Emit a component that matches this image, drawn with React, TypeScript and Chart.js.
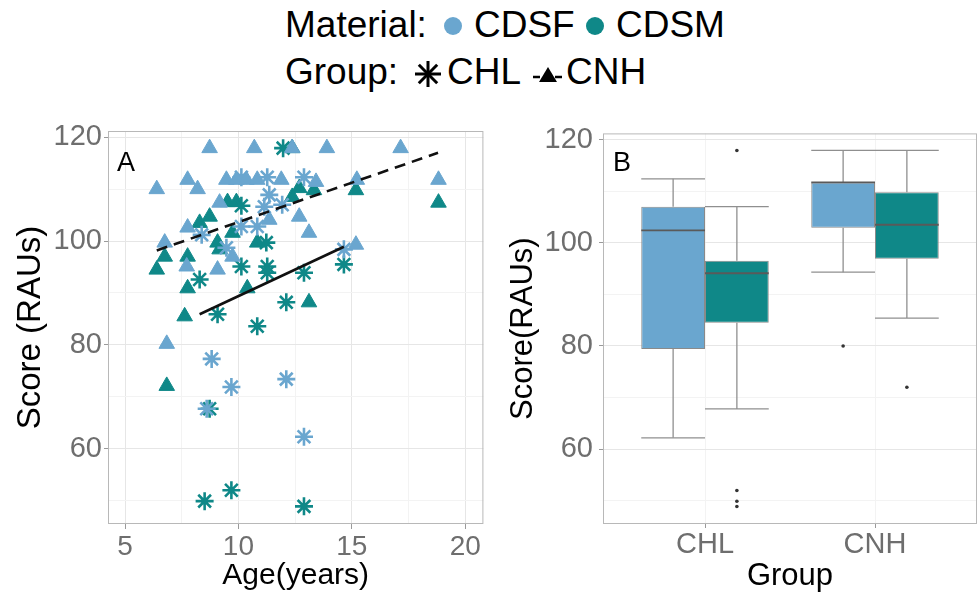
import React, { useEffect, useRef } from 'react';
import { Chart, registerables } from 'chart.js';

Chart.register(...registerables);

const FONT = '"Liberation Sans", Arial, Helvetica, sans-serif';
const LIGHT = '#6aa6cf';
const TEAL = '#0f8888';
const TICK_TEXT = '#6e6e6e';
const GRID_MAJOR = '#e6e6e6';
const GRID_MINOR = '#f3f3f3';
const FRAME = '#b8b8b8';

// ---------- Panel A: Score vs Age ----------
const cdsfChlAge = [10.13, 11.27, 12.89, 11.93, 11.36, 11.14, 8.38, 10.13, 10.83, 9.47, 14.65, 8.82, 9.69, 8.6, 12.11, 12.89];
const cdsfChlScore = [112.3, 112.3, 112.3, 107.0, 108.9, 106.6, 101.2, 102.8, 102.8, 98.7, 98.4, 77.3, 71.9, 67.7, 73.4, 62.3];

const cdsmChlAge = [11.97, 10.13, 11.23, 8.29, 10.13, 11.27, 11.27, 9.08, 10.83, 12.11, 12.89, 14.65, 8.73, 8.51, 9.69, 12.89];
const cdsmChlScore = [117.9, 106.8, 99.7, 92.6, 95.1, 95.1, 93.9, 85.9, 83.6, 88.2, 93.9, 95.5, 67.7, 49.9, 52.0, 48.9];

const cdsfCnhAge = [8.73, 10.7, 12.37, 13.9, 17.15, 6.4, 7.76, 8.2, 9.47, 9.91, 10.35, 10.83, 11.89, 13.42, 15.22, 18.82, 6.75, 7.76, 9.17, 9.74, 7.72, 9.08, 11.36, 12.68, 13.11, 15.18, 6.84];
const cdsfCnhScore = [117.9, 117.9, 117.9, 117.9, 117.9, 110.0, 111.8, 110.0, 111.8, 111.8, 111.8, 111.8, 111.8, 111.4, 111.8, 111.8, 99.7, 102.6, 107.4, 97.0, 95.1, 94.5, 104.1, 104.7, 101.6, 99.3, 80.2];

const cdsmCnhAge = [12.37, 6.4, 6.75, 7.76, 7.76, 7.63, 6.84, 8.29, 8.73, 9.52, 9.91, 9.08, 9.17, 9.74, 10.83, 10.39, 12.37, 12.68, 13.33, 15.18, 18.82, 13.11];
const cdsmCnhScore = [117.9, 94.5, 97.0, 97.0, 90.9, 85.5, 72.1, 103.5, 104.7, 107.5, 107.5, 99.7, 98.4, 101.6, 99.7, 90.9, 108.5, 110.2, 109.8, 109.8, 107.4, 88.2];

// fitted regression lines (endpoints)
const chlFitAge = [8.29, 14.65];
const chlFitScore = [85.9, 98.9];
const cnhFitAge = [6.4, 18.8];
const cnhFitScore = [98.2, 117.0];

const ageMin = 4.25;
const ageMax = 20.8;
const ageTicks = [5, 7.5, 10, 12.5, 15, 17.5, 20];
const ageLabels = [5, 10, 15, 20];

const scoreMin = 45.5;
const scoreMax = 121.2;
const scoreTicks = [50, 60, 70, 80, 90, 100, 110, 120];
const scoreLabels = [60, 80, 100, 120];

// ---------- Panel B: box plots ----------
const groupNames = ['CHL', 'CNH'];
const groupPos = [1, 2];
const groupMin = 0.4;
const groupMax = 2.6;

const cdsfLow = [62.2, 94.3];
const cdsfQ1 = [79.4, 102.9];
const cdsfMedian = [102.4, 111.7];
const cdsfQ3 = [107.0, 111.7];
const cdsfHigh = [112.4, 117.9];
const cdsfOutliers = [[], [80.0]];

const cdsmLow = [67.8, 85.4];
const cdsmQ1 = [84.5, 96.9];
const cdsmMedian = [94.1, 103.5];
const cdsmQ3 = [96.5, 109.8];
const cdsmHigh = [107.0, 117.9];
const cdsmOutliers = [[117.9, 52.0, 49.9, 48.9], [72.0]];

const toPts = (xs: number[], ys: number[]) => xs.map((x, i) => ({ x, y: ys[i] }));

const framePlugin = {
  id: 'frame',
  afterDraw(chart: any) {
    const { ctx, chartArea: a } = chart;
    ctx.save();
    ctx.strokeStyle = FRAME;
    ctx.lineWidth = 1;
    ctx.strokeRect(a.left + 0.5, a.top + 0.5, a.right - a.left - 1, a.bottom - a.top - 1);
    ctx.restore();
  },
};

function scoreAxis(width: number, titleText: string, titleSize: number, titlePad: number, tickPad: number) {
  return {
    type: 'linear',
    min: scoreMin,
    max: scoreMax,
    afterBuildTicks: (s: any) => {
      s.ticks = scoreTicks.map((v) => ({ value: v }));
    },
    afterFit: (s: any) => {
      s.width = width;
    },
    ticks: {
      autoSkip: false,
      padding: tickPad,
      color: TICK_TEXT,
      font: { family: FONT, size: 29 },
      callback: (v: any) => (scoreLabels.includes(v) ? String(v) : ''),
    },
    grid: {
      lineWidth: 1,
      offset: false,
      color: (c: any) => (c.tick && scoreLabels.includes(c.tick.value) ? GRID_MAJOR : GRID_MINOR),
      tickColor: (c: any) => (c.tick && scoreLabels.includes(c.tick.value) ? '#9a9a9a' : 'rgba(0,0,0,0)'),
      tickLength: 4,
    },
    border: { display: false },
    title: {
      display: true,
      text: titleText,
      color: '#000',
      font: { family: FONT, size: titleSize },
      padding: { top: titlePad, bottom: 0 },
    },
  };
}

function PanelA() {
  const ref = useRef<HTMLCanvasElement>(null);
  useEffect(() => {
    const chart = new Chart(ref.current as HTMLCanvasElement, {
      type: 'scatter',
      data: {
        datasets: [
          {
            data: toPts(cnhFitAge, cnhFitScore),
            showLine: true,
            borderColor: '#111',
            borderWidth: 2.6,
            borderDash: [11, 7],
            pointRadius: 0,
          },
          {
            data: toPts(chlFitAge, chlFitScore),
            showLine: true,
            borderColor: '#111',
            borderWidth: 2.6,
            pointRadius: 0,
          },
          {
            data: toPts(cdsfCnhAge, cdsfCnhScore),
            pointStyle: 'triangle',
            pointRadius: 9,
            pointBackgroundColor: LIGHT,
            pointBorderColor: LIGHT,
            pointBorderWidth: 1,
          },
          {
            data: toPts(cdsfChlAge, cdsfChlScore),
            pointStyle: 'star',
            pointRadius: 9,
            pointBackgroundColor: LIGHT,
            pointBorderColor: LIGHT,
            pointBorderWidth: 2.6,
          },
          {
            data: toPts(cdsmChlAge, cdsmChlScore),
            pointStyle: 'star',
            pointRadius: 9,
            pointBackgroundColor: TEAL,
            pointBorderColor: TEAL,
            pointBorderWidth: 2.6,
          },
          {
            data: toPts(cdsmCnhAge, cdsmCnhScore),
            pointStyle: 'triangle',
            pointRadius: 9,
            pointBackgroundColor: TEAL,
            pointBorderColor: TEAL,
            pointBorderWidth: 1,
          },
        ],
      },
      options: {
        responsive: false,
        animation: false,
        events: [],
        layout: { padding: { top: 21, right: 10, left: 0, bottom: 0 } },
        plugins: { legend: { display: false }, tooltip: { enabled: false } },
        scales: {
          x: {
            type: 'linear',
            min: ageMin,
            max: ageMax,
            afterBuildTicks: (s: any) => {
              s.ticks = ageTicks.map((v) => ({ value: v }));
            },
            afterFit: (s: any) => {
              s.height = 71;
            },
            ticks: {
              autoSkip: false,
              maxRotation: 0,
              minRotation: 0,
              padding: 1,
              color: TICK_TEXT,
              font: { family: FONT, size: 28 },
              callback: (v: any) => (ageLabels.includes(v) ? String(v) : ''),
            },
            grid: {
              lineWidth: 1,
              offset: false,
              color: (c: any) => (c.tick && ageLabels.includes(c.tick.value) ? GRID_MAJOR : GRID_MINOR),
              tickColor: (c: any) => (c.tick && ageLabels.includes(c.tick.value) ? '#9a9a9a' : 'rgba(0,0,0,0)'),
              tickLength: 5,
            },
            border: { display: false },
            title: {
              display: true,
              text: 'Age(years)',
              color: '#000',
              font: { family: FONT, size: 30 },
              padding: { top: 0, bottom: 1 },
            },
          },
          y: scoreAxis(108, 'Score (RAUs)', 33, 11, 2) as any,
        },
      },
      plugins: [framePlugin],
    } as any);
    return () => chart.destroy();
  }, []);
  return (
    <canvas
      ref={ref}
      width={495}
      height={485}
      style={{ position: 'absolute', left: 0, top: 110, width: 495, height: 485 }}
    />
  );
}

const boxStats = [
  { low: cdsfLow, q1: cdsfQ1, med: cdsfMedian, q3: cdsfQ3, high: cdsfHigh, out: cdsfOutliers },
  { low: cdsmLow, q1: cdsmQ1, med: cdsmMedian, q3: cdsmQ3, high: cdsmHigh, out: cdsmOutliers },
];

const boxPlugin = {
  id: 'boxParts',
  afterDatasetsDraw(chart: any) {
    const { ctx } = chart;
    const y = chart.scales.y;
    const line = (x1: number, y1: number, x2: number, y2: number) => {
      ctx.beginPath();
      ctx.moveTo(x1, y1);
      ctx.lineTo(x2, y2);
      ctx.stroke();
    };
    boxStats.forEach((st, di) => {
      const meta = chart.getDatasetMeta(di);
      meta.data.forEach((bar: any, i: number) => {
        const { x, width } = bar.getProps(['x', 'width'], true);
        const h = width / 2;
        const pLow = y.getPixelForValue(st.low[i]);
        const pQ1 = y.getPixelForValue(st.q1[i]);
        const pQ3 = y.getPixelForValue(st.q3[i]);
        const pHigh = y.getPixelForValue(st.high[i]);
        const pMed = y.getPixelForValue(st.med[i]);
        ctx.save();
        ctx.strokeStyle = '#8f8f8f';
        ctx.lineWidth = 1.3;
        line(x, pQ3, x, pHigh);
        line(x, pQ1, x, pLow);
        line(x - h, pHigh, x + h, pHigh);
        line(x - h, pLow, x + h, pLow);
        ctx.strokeStyle = '#5a5a5a';
        ctx.lineWidth = 1.8;
        line(x - h, pMed, x + h, pMed);
        ctx.fillStyle = '#333';
        st.out[i].forEach((v: number) => {
          ctx.beginPath();
          ctx.arc(x, y.getPixelForValue(v), 1.8, 0, Math.PI * 2);
          ctx.fill();
        });
        ctx.restore();
      });
    });
  },
};

function PanelB() {
  const ref = useRef<HTMLCanvasElement>(null);
  useEffect(() => {
    const chart = new Chart(ref.current as HTMLCanvasElement, {
      type: 'bar',
      data: {
        datasets: [
          {
            label: 'CDSF',
            data: groupPos.map((p, i) => ({ x: p, y: [cdsfQ1[i], cdsfQ3[i]] })),
            backgroundColor: LIGHT,
            borderColor: '#8a8a8a',
            borderWidth: 1,
            borderSkipped: false,
          },
          {
            label: 'CDSM',
            data: groupPos.map((p, i) => ({ x: p, y: [cdsmQ1[i], cdsmQ3[i]] })),
            backgroundColor: TEAL,
            borderColor: '#8a8a8a',
            borderWidth: 1,
            borderSkipped: false,
          },
        ],
      },
      options: {
        responsive: false,
        animation: false,
        events: [],
        categoryPercentage: 0.75,
        barPercentage: 1,
        layout: { padding: { top: 21, right: 0, left: 0, bottom: 0 } },
        plugins: { legend: { display: false }, tooltip: { enabled: false } },
        scales: {
          x: {
            type: 'linear',
            min: groupMin,
            max: groupMax,
            offset: false,
            afterBuildTicks: (s: any) => {
              s.ticks = groupPos.map((v) => ({ value: v }));
            },
            afterFit: (s: any) => {
              s.height = 71;
            },
            ticks: {
              autoSkip: false,
              maxRotation: 0,
              minRotation: 0,
              padding: 0,
              color: TICK_TEXT,
              font: { family: FONT, size: 29 },
              callback: (v: any) => groupNames[groupPos.indexOf(v)] ?? '',
            },
            grid: {
              lineWidth: 1,
              offset: false,
              color: GRID_MINOR,
              tickColor: '#9a9a9a',
              tickLength: 4,
            },
            border: { display: false },
            title: {
              display: true,
              text: 'Group',
              color: '#000',
              font: { family: FONT, size: 31 },
              padding: { top: 0, bottom: 0 },
            },
          },
          y: scoreAxis(108, 'Score(RAUs)', 31, 10, 6) as any,
        },
      },
      plugins: [boxPlugin, framePlugin],
    } as any);
    return () => chart.destroy();
  }, []);
  return (
    <canvas
      ref={ref}
      width={482}
      height={485}
      style={{ position: 'absolute', left: 495, top: 110, width: 482, height: 485 }}
    />
  );
}

const txt = (left: number, top: number, size: number, text: string) => (
  <div
    style={{
      position: 'absolute',
      left,
      top,
      fontFamily: FONT,
      fontSize: size,
      lineHeight: 1,
      color: '#000',
      whiteSpace: 'nowrap',
    }}
  >
    {text}
  </div>
);

function Legend() {
  return (
    <>
      {txt(285, 6, 37, 'Material:')}
      <svg style={{ position: 'absolute', left: 440, top: 13 }} width={26} height={26}>
        <circle cx={13} cy={13} r={9} fill={LIGHT} />
      </svg>
      {txt(474, 6, 37, 'CDSF')}
      <svg style={{ position: 'absolute', left: 582, top: 13 }} width={26} height={26}>
        <circle cx={13} cy={13} r={9} fill={TEAL} />
      </svg>
      {txt(616, 6, 37, 'CDSM')}

      {txt(285, 53, 37, 'Group:')}
      <svg style={{ position: 'absolute', left: 412, top: 58 }} width={32} height={32}>
        <g stroke="#000" strokeWidth={3} strokeLinecap="butt">
          <line x1={16} y1={3} x2={16} y2={29} />
          <line x1={3} y1={16} x2={29} y2={16} />
          <line x1={6.8} y1={6.8} x2={25.2} y2={25.2} />
          <line x1={25.2} y1={6.8} x2={6.8} y2={25.2} />
        </g>
      </svg>
      {txt(447, 53, 37, 'CHL')}
      <svg style={{ position: 'absolute', left: 531, top: 58 }} width={34} height={32}>
        <line x1={2} y1={19} x2={32} y2={19} stroke="#000" strokeWidth={2.5} strokeDasharray="7 4" />
        <polygon points="17,9 26,24 8,24" fill="#000" />
      </svg>
      {txt(566, 53, 37, 'CNH')}
    </>
  );
}

export default function App() {
  return (
    <div style={{ position: 'absolute', left: 0, top: 0, width: 977, height: 595, background: '#fff', overflow: 'hidden' }}>
      <Legend />
      <PanelA />
      <PanelB />
      {txt(117, 149, 27, 'A')}
      {txt(613, 149, 27, 'B')}
    </div>
  );
}
